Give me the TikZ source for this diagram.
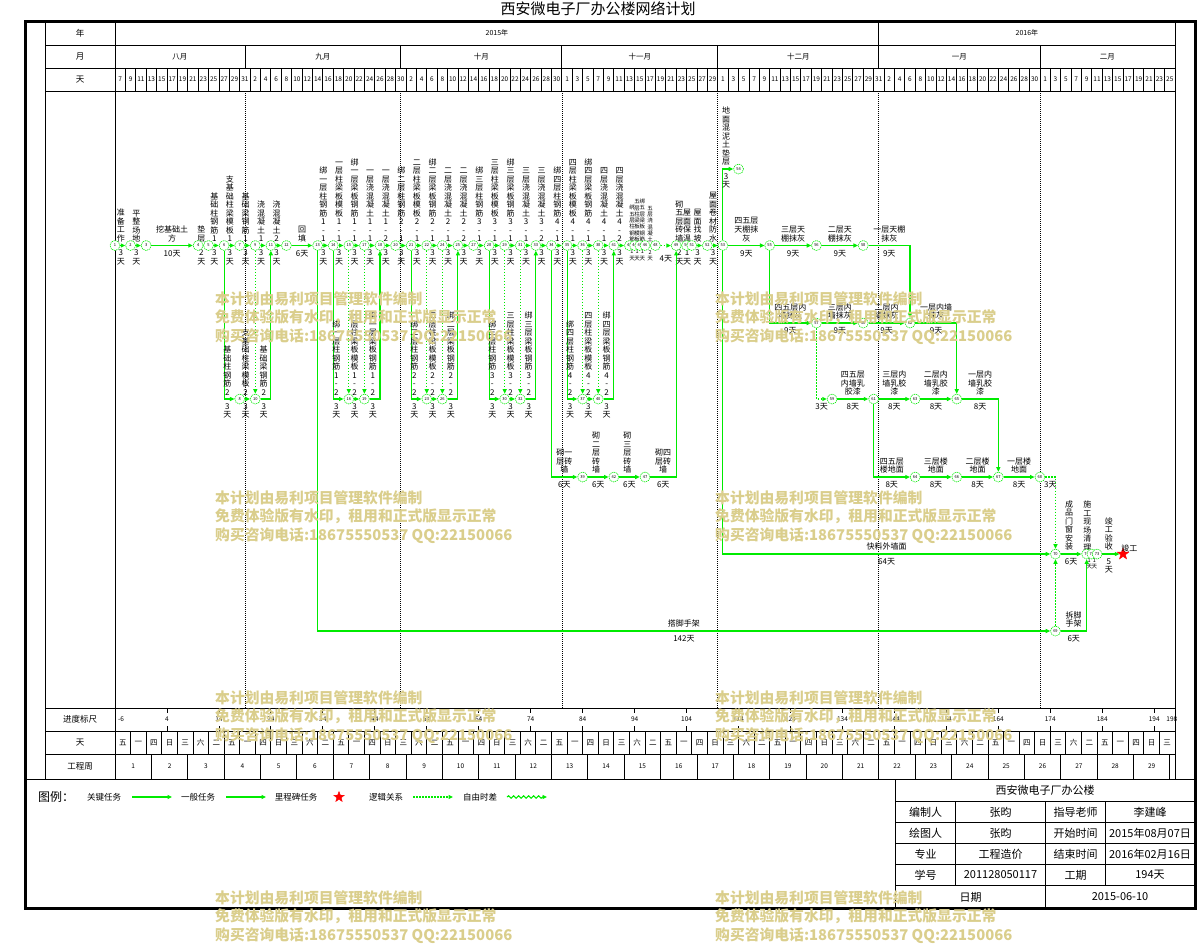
\documentclass[tikz,border=0pt]{standalone}
\usepackage{fontspec}
\setmainfont{Noto Sans CJK SC}
\usepackage{tikz}
\usetikzlibrary{arrows.meta,shapes.geometric,positioning,backgrounds,decorations.pathmorphing}

\definecolor{keygreen}{RGB}{0,235,0}
\definecolor{wmark}{RGB}{218,206,140}

% vertical text, one character per line
\newdimen\vtwidth \vtwidth=8pt
\newcommand\vt[1]{\vbox{\baselineskip=8.5pt\lineskiplimit=-20pt\lineskip=0pt\vtloop#1\vtstop}}
\newcommand\vtsmall[1]{\vbox{\vtwidth=5pt\baselineskip=6.3pt\lineskiplimit=-20pt\lineskip=0pt\vtloop#1\vtstop}}
\def\vtstop{}
\def\vtloop#1{\ifx#1\vtstop\else\hbox to \vtwidth{\hss#1\hss}\expandafter\vtloop\fi}

\begin{document}
\begin{tikzpicture}[
	x=1pt, y=-1pt,
	font=\fontsize{8}{8.7}\selectfont
	]
\tikzset{
	grid/.style = { draw=black, line width=0.8pt },
	monthline/.style = { draw=black, line width=0.7pt, dash pattern=on 1pt off 1pt },
	ev/.style = { circle, draw=keygreen, line width=0.6pt, dash pattern=on 1.2pt off 0.8pt, fill=white, minimum size=10pt, inner sep=0pt, font=\fontsize{4}{4}\selectfont },
	arrow/.style = { draw=keygreen, line width=1.1pt, -{Triangle[length=4.5pt,width=4pt]} },
	keyline/.style = { draw=keygreen, line width=1.1pt },
	logic/.style = { arrow, dash pattern=on 1.5pt off 1.5pt },
	wavy/.style = { arrow, decorate, decoration={snake, amplitude=1.2pt, segment length=5pt, post length=4pt} },
	vlab/.style = { anchor=south, inner sep=0pt, yshift=3pt, xshift=-2pt },
	vdur/.style = { anchor=north, inner sep=0pt, yshift=-4pt, xshift=-2pt },
	tiny/.style = { font=\fontsize{5.5}{6}\selectfont, xshift=2pt },
	hlab/.style = { anchor=south, inner sep=0pt, yshift=3pt, align=center },
	hdur/.style = { anchor=north, inner sep=0pt, yshift=-4pt },
	headText/.style = { inner sep=0pt, font=\fontsize{6.5}{7}\selectfont },
	yearText/.style = { inner sep=0pt, font=\fontsize{7}{7}\selectfont },
	monthText/.style = { inner sep=0pt, font=\fontsize{7.5}{8}\selectfont },
	rowTitle/.style = { inner sep=0pt, font=\fontsize{8.5}{9}\selectfont },
	legendText/.style = { inner sep=0pt, font=\fontsize{8.5}{9}\selectfont },
	blockText/.style = { inner sep=0pt, font=\fontsize{11}{12}\selectfont },
	watermark/.style = { text=wmark, font=\fontsize{14.8}{18.5}\selectfont\bfseries, align=left, anchor=north west, inner sep=0pt },
	finishStar/.style = { star, star points=5, star point ratio=2.4, fill=red, draw=red, minimum size=12pt, inner sep=0pt }
}
\useasboundingbox (0,0) rectangle (1198,943);

	% title
	\node (title) [font=\fontsize{15}{15}\selectfont] at (598,9) {西安微电子厂办公楼网络计划};

	% frame and table
	\draw [line width=3pt] (25,21) rectangle (1195,908);
	\draw [grid] (45,21) -- (45,779) (115,21) -- (115,779) (1175,21) -- (1175,779);
	\draw [grid] (45,45) -- (1175,45) (45,68) -- (1175,68) (45,91) -- (1175,91);
	\draw [grid] (45,708) -- (1175,708) (45,731) -- (1175,731) (45,754) -- (1175,754);
	\draw [grid] (25,779) -- (1195,779);
	\node (rowYear) [rowTitle] at (80,33) {年};
	\node (rowMonth) [rowTitle] at (80,56.5) {月};
	\node (rowDay) [rowTitle] at (80,79.5) {天};
	\node (rowRuler) [rowTitle] at (80,719.5) {进度标尺};
	\node (rowWeekday) [rowTitle] at (80,742.5) {天};
	\node (rowWeek) [rowTitle] at (80,766) {工程周};

\begin{scope}[x=5.196pt, xshift=115pt]
	% calendar header
	\draw [grid] (147,21) -- (147,45);
	\node (year2015) [yearText] at (73.5,33) {2015年};
	\node (year2016) [yearText] at (175.5,33) {2016年};
	\foreach \m in {25,55,86,116,147,178} \draw [grid] (\m,45) -- (\m,68);
	\foreach \mname/\mx [count=\k] in {八月/12.5,九月/40,十月/70.5,十一月/101,十二月/131.5,一月/162.5,二月/191}
		\node (month\k) [monthText] at (\mx,56.5) {\mname};
	\foreach \i in {1,...,101} \draw [grid] (2*\i,68) -- (2*\i,91);
	\foreach \i in {0,...,101} {
		\pgfmathtruncatemacro\o{2*\i}
		\ifnum\o<25 \pgfmathtruncatemacro\dd{\o+7}\else
		\ifnum\o<55 \pgfmathtruncatemacro\dd{\o-24}\else
		\ifnum\o<86 \pgfmathtruncatemacro\dd{\o-54}\else
		\ifnum\o<116 \pgfmathtruncatemacro\dd{\o-85}\else
		\ifnum\o<147 \pgfmathtruncatemacro\dd{\o-115}\else
		\ifnum\o<178 \pgfmathtruncatemacro\dd{\o-146}\else
		\pgfmathtruncatemacro\dd{\o-177}\fi\fi\fi\fi\fi\fi
		\node (day\i) [headText] at (\o+1,79.5) {\dd};
	}
	\foreach \m in {25,55,86,116,147,178} \draw [monthline] (\m,91) -- (\m,708);

	% ruler, weekdays, weeks
	\node (rulerStart) [headText, xshift=6pt] at (0,719.5) {-6};
	\foreach \v [count=\k] in {4,14,...,194} {
		\draw [grid] (\v+6,708) -- (\v+6,713) (\v+6,726) -- (\v+6,731);
		\node (ruler\k) [headText] at (\v+6,719.5) {\v};
	}
	\node (rulerEnd) [headText] at (203.4,719.5) {198};
	\foreach \i in {1,...,67} \draw [grid] (3*\i,731) -- (3*\i,754);
	\foreach \r in {0,...,9} {
		\foreach \w [count=\j from 0] in {五,一,四,日,三,六,二} {
			\pgfmathtruncatemacro\c{7*\r+\j}
			\ifnum\c<68 \node (wd\c) [monthText] at (3*\c+1.5,742.5) {\w}; \fi
		}
	}
	\foreach \i in {1,...,29} {
		\draw [grid] (7*\i,754) -- (7*\i,779);
		\node (week\i) [headText] at (7*\i-3.5,766) {\i};
	}

	% main chain
	\node (e1) [ev] at (0,245.5) {1};
	\node (e2) [ev] at (3,245.5) {2};
	\node (e3) [ev] at (6,245.5) {3};
	\node (e4) [ev] at (16,245.5) {4};
	\node (e5) [ev] at (18,245.5) {5};
	\node (e6) [ev] at (21,245.5) {6};
	\node (e7) [ev] at (24,245.5) {7};
	\node (e9) [ev] at (27,245.5) {9};
	\node (e11) [ev] at (30,245.5) {11};
	\node (e12) [ev] at (33,245.5) {12};
	\node (e13) [ev] at (39,245.5) {13};
	\node (e14) [ev] at (42,245.5) {14};
	\node (e15) [ev] at (45,245.5) {15};
	\node (e17) [ev] at (48,245.5) {17};
	\node (e18) [ev] at (51,245.5) {18};
	\node (e20) [ev] at (54,245.5) {20};
	\node (e21) [ev] at (57,245.5) {21};
	\node (e22) [ev] at (60,245.5) {22};
	\node (e24) [ev] at (63,245.5) {24};
	\node (e25) [ev] at (66,245.5) {25};
	\node (e27) [ev] at (69,245.5) {27};
	\node (e28) [ev] at (72,245.5) {28};
	\node (e29) [ev] at (75,245.5) {29};
	\node (e31) [ev] at (78,245.5) {31};
	\node (e33) [ev] at (81,245.5) {33};
	\node (e34) [ev] at (84,245.5) {34};
	\node (e35) [ev] at (87,245.5) {35};
	\node (e36) [ev] at (90,245.5) {36};
	\node (e38) [ev] at (93,245.5) {38};
	\node (e41) [ev] at (96,245.5) {41};
	\node (e43) [ev] at (99,245.5) {43};
	\node (e44) [ev] at (100,245.5) {44};
	\node (e45) [ev] at (101,245.5) {45};
	\node (e46) [ev] at (102,245.5) {46};
	\node (e48) [ev] at (104,245.5) {48};
	\node (e49) [ev] at (108,245.5) {49};
	\node (e50) [ev] at (110,245.5) {50};
	\node (e51) [ev] at (111,245.5) {51};
	\node (e52) [ev] at (114,245.5) {52};
	\node (e53) [ev] at (117,245.5) {53};
	\node (e55) [ev] at (126,245.5) {55};
	\node (e56) [ev] at (135,245.5) {56};
	\node (e58) [ev] at (144,245.5) {58};

	% lower loops and side chains
	\node (e8) [ev] at (24,399) {8};
	\node (e10) [ev] at (27,399) {10};
	\node (e16) [ev] at (45,399) {16};
	\node (e19) [ev] at (48,399) {19};
	\node (e23) [ev] at (60,399) {23};
	\node (e26) [ev] at (63,399) {26};
	\node (e30) [ev] at (75,399) {30};
	\node (e32) [ev] at (78,399) {32};
	\node (e37) [ev] at (90,399) {37};
	\node (e40) [ev] at (93,399) {40};
	\node (e39) [ev] at (90,477) {39};
	\node (e42) [ev] at (96,477) {42};
	\node (e47) [ev] at (102,477) {47};
	\node (e54) [ev] at (120,169) {54};
	\node (e57) [ev] at (135,323) {57};
	\node (e60) [ev] at (144,323) {60};
	\node (e62) [ev] at (153,323) {62};
	\node (e59) [ev] at (138,399) {59};
	\node (e61) [ev] at (146,399) {61};
	\node (e63) [ev] at (154,399) {63};
	\node (e65) [ev] at (162,399) {65};
	\node (e64) [ev] at (154,477) {64};
	\node (e66) [ev] at (162,477) {66};
	\node (e67) [ev] at (170,477) {67};
	\node (e68) [ev] at (178,477) {68};
	\node (e70) [ev] at (181,554) {70};
	\node (e71) [ev] at (187,554) {71};
	\node (e72) [ev] at (188,554) {72};
	\node (e73) [ev] at (189,554) {73};
	\node (e69) [ev] at (181,631) {69};
	\node (finish) [finishStar] at (194,554) {};
	\node (finishLabel) [above right=-1pt and -4pt of finish, inner sep=0pt] {竣工};

	% foundation
	\draw [arrow] (e1) -- node[vlab] {\vt{准备工作}} node[vdur] {\vt{3天}} (e2);
	\draw [arrow] (e2) -- node[vlab] {\vt{平整场地}} node[vdur] {\vt{3天}} (e3);
	\draw [arrow] (e3) -- node[hlab] {挖基础土\\方} node[hdur] {10天} (e4);
	\draw [arrow] (e5) -- node[vlab] {\vt{基础柱钢筋1}} node[vdur] {\vt{3天}} (e6);
	\draw [arrow] (e6) -- node[vlab] {\vt{支基础柱梁模板1}} node[vdur] {\vt{3天}} (e7);
	\draw [arrow] (e7) -- node[vlab] {\vt{基础梁钢筋1}} node[vdur] {\vt{3天}} (e9);
	\draw [arrow] (e9) -- node[vlab] {\vt{浇混凝土1}} node[vdur] {\vt{3天}} (e11);
	\draw [arrow] (e11) -- node[vlab] {\vt{浇混凝土2}} node[vdur] {\vt{3天}} (e12);
	\draw [arrow] (e12) -- node[hlab] {回\\填} node[hdur] {6天} (e13);
	\draw [arrow] (e6) |- node[pos=0.75, vlab] {\vt{基础柱钢筋2}} node[pos=0.75, vdur] {\vt{3天}} (e8);
	\draw [arrow] (e8) -- node[vlab] {\vt{支基础柱梁模板2}} node[vdur] {\vt{3天}} (e10);
	\draw [arrow] (e10) -| node[pos=0.25, vlab] {\vt{基础梁钢筋2}} node[pos=0.25, vdur] {\vt{3天}} (e11);
	\draw [logic] (e9) -- (e10);

	% first floor
	\draw [arrow] (e13) -- node[vlab] {\vt{绑一层柱钢筋1-1}} node[vdur] {\vt{3天}} (e14);
	\draw [arrow] (e14) -- node[vlab] {\vt{一层柱梁板模板1-1}} node[vdur] {\vt{3天}} (e15);
	\draw [arrow] (e15) -- node[vlab] {\vt{绑一层梁板钢筋1-1}} node[vdur] {\vt{3天}} (e17);
	\draw [arrow] (e17) -- node[vlab] {\vt{一层浇混凝土1-1}} node[vdur] {\vt{3天}} (e18);
	\draw [arrow] (e18) -- node[vlab] {\vt{一层浇混凝土1-2}} node[vdur] {\vt{3天}} (e20);
	\draw [arrow] (e14) |- node[pos=0.75, vlab] {\vt{绑一层柱钢筋1-2}} node[pos=0.75, vdur] {\vt{3天}} (e16);
	\draw [arrow] (e16) -- node[vlab] {\vt{一层柱梁板模板1-2}} node[vdur] {\vt{3天}} (e19);
	\draw [arrow] (e19) -| node[pos=0.25, vlab] {\vt{绑一层梁板钢筋1-2}} node[pos=0.25, vdur] {\vt{3天}} (e18);
	\draw [logic] (e15) -- (e16);
	\draw [logic] (e17) -- (e19);

	% second floor
	\draw [arrow] (e20) -- node[vlab] {\vt{绑二层柱钢筋2-1}} node[vdur] {\vt{3天}} (e21);
	\draw [arrow] (e21) -- node[vlab] {\vt{二层柱梁板模板2-1}} node[vdur] {\vt{3天}} (e22);
	\draw [arrow] (e22) -- node[vlab] {\vt{绑二层梁板钢筋2-1}} node[vdur] {\vt{3天}} (e24);
	\draw [arrow] (e24) -- node[vlab] {\vt{二层浇混凝土2-1}} node[vdur] {\vt{3天}} (e25);
	\draw [arrow] (e25) -- node[vlab] {\vt{二层浇混凝土2-2}} node[vdur] {\vt{3天}} (e27);
	\draw [arrow] (e21) |- node[pos=0.75, vlab] {\vt{绑二层柱钢筋2-2}} node[pos=0.75, vdur] {\vt{3天}} (e23);
	\draw [arrow] (e23) -- node[vlab] {\vt{二层柱梁板模板2-2}} node[vdur] {\vt{3天}} (e26);
	\draw [arrow] (e26) -| node[pos=0.25, vlab] {\vt{绑二层梁板钢筋2-2}} node[pos=0.25, vdur] {\vt{3天}} (e25);
	\draw [logic] (e22) -- (e23);
	\draw [logic] (e24) -- (e26);

	% third floor
	\draw [arrow] (e27) -- node[vlab] {\vt{绑三层柱钢筋3-1}} node[vdur] {\vt{3天}} (e28);
	\draw [arrow] (e28) -- node[vlab] {\vt{三层柱梁板模板3-1}} node[vdur] {\vt{3天}} (e29);
	\draw [arrow] (e29) -- node[vlab] {\vt{绑三层梁板钢筋3-1}} node[vdur] {\vt{3天}} (e31);
	\draw [arrow] (e31) -- node[vlab] {\vt{三层浇混凝土3-1}} node[vdur] {\vt{3天}} (e33);
	\draw [arrow] (e33) -- node[vlab] {\vt{三层浇混凝土3-2}} node[vdur] {\vt{3天}} (e34);
	\draw [arrow] (e28) |- node[pos=0.75, vlab] {\vt{绑三层柱钢筋3-2}} node[pos=0.75, vdur] {\vt{3天}} (e30);
	\draw [arrow] (e30) -- node[vlab] {\vt{三层柱梁板模板3-2}} node[vdur] {\vt{3天}} (e32);
	\draw [arrow] (e32) -| node[pos=0.25, vlab] {\vt{绑三层梁板钢筋3-2}} node[pos=0.25, vdur] {\vt{3天}} (e33);
	\draw [logic] (e29) -- (e30);
	\draw [logic] (e31) -- (e32);

	% fourth floor
	\draw [arrow] (e34) -- node[vlab] {\vt{绑四层柱钢筋4-1}} node[vdur] {\vt{3天}} (e35);
	\draw [arrow] (e35) -- node[vlab] {\vt{四层柱梁板模板4-1}} node[vdur] {\vt{3天}} (e36);
	\draw [arrow] (e36) -- node[vlab] {\vt{绑四层梁板钢筋4-1}} node[vdur] {\vt{3天}} (e38);
	\draw [arrow] (e38) -- node[vlab] {\vt{四层浇混凝土4-1}} node[vdur] {\vt{3天}} (e41);
	\draw [arrow] (e41) -- node[vlab] {\vt{四层浇混凝土4-2}} node[vdur] {\vt{3天}} (e43);
	\draw [arrow] (e35) |- node[pos=0.75, vlab] {\vt{绑四层柱钢筋4-2}} node[pos=0.75, vdur] {\vt{3天}} (e37);
	\draw [arrow] (e37) -- node[vlab] {\vt{四层柱梁板模板4-2}} node[vdur] {\vt{3天}} (e40);
	\draw [arrow] (e40) -| node[pos=0.25, vlab] {\vt{绑四层梁板钢筋4-2}} node[pos=0.25, vdur] {\vt{3天}} (e41);
	\draw [logic] (e36) -- (e37);
	\draw [logic] (e38) -- (e40);

	% brick walls
	\draw [arrow] (e34) |- node[pos=0.75, hlab] {砌一\\层砖\\墙} node[pos=0.75, hdur] {6天} (e39);
	\draw [arrow] (e39) -- node[vlab] {\vt{砌二层砖墙}} node[hdur] {6天} (e42);
	\draw [arrow] (e42) -- node[vlab] {\vt{砌三层砖墙}} node[hdur] {6天} (e47);
	\draw [arrow] (e47) -| node[pos=0.25, hlab] {砌四\\层砖\\墙} node[pos=0.25, hdur] {6天} (e49);

	% roof
	\draw [logic] (e48) -- node[hdur, yshift=-5pt] {4天} (e49);
	\draw [arrow] (e51) -- node[vlab] {\vt{屋面找坡}} node[vdur] {\vt{3天}} (e52);
	\draw [arrow] (e52) -- node[vlab] {\vt{屋面卷材防水}} node[vdur] {\vt{3天}} (e53);
	\draw [arrow] (e53) |- node[pos=0.75, vlab] {\vt{地面混泥土垫层}} node[pos=0.75, vdur] {\vt{3天}} (e54);

	% finishing
	\draw [arrow] (e53) -- node[hlab] {四五层\\天棚抹\\灰} node[hdur] {9天} (e55);
	\draw [arrow] (e55) -- node[hlab] {三层天\\棚抹灰} node[hdur] {9天} (e56);
	\draw [arrow] (e56) -- node[hlab] {二层天\\棚抹灰} node[hdur] {9天} (e58);
	\draw [arrow] (e58) -| node[pos=0.25, hlab] {一层天棚\\抹灰} node[pos=0.25, hdur] {9天} (e62);
	\draw [arrow] (e55) |- node[pos=0.75, hlab] {四五层内\\墙抹灰} node[pos=0.75, hdur] {9天} (e57);
	\draw [arrow] (e57) -- node[hlab] {三层内\\墙抹灰} node[hdur] {9天} (e60);
	\draw [arrow] (e60) -- node[hlab] {二层内\\墙抹灰} node[hdur] {9天} (e62);
	\draw [arrow] (e62) -| node[pos=0.25, hlab] {一层内墙\\抹灰} node[pos=0.25, hdur] {9天} (e65);
	\draw [logic] (e57) |- node[pos=0.75, hdur] {3天} (e59);
	\draw [arrow] (e59) -- node[hlab] {四五层\\内墙乳\\胶漆} node[hdur] {8天} (e61);
	\draw [arrow] (e61) -- node[hlab] {三层内\\墙乳胶\\漆} node[hdur] {8天} (e63);
	\draw [arrow] (e63) -- node[hlab] {二层内\\墙乳胶\\漆} node[hdur] {8天} (e65);
	\draw [arrow] (e65) -| node[pos=0.25, hlab] {一层内\\墙乳胶\\漆} node[pos=0.25, hdur] {8天} (e67);
	\draw [arrow] (e61) |- node[pos=0.75, hlab] {四五层\\楼地面} node[pos=0.75, hdur] {8天} (e64);
	\draw [arrow] (e64) -- node[hlab] {三层楼\\地面} node[hdur] {8天} (e66);
	\draw [arrow] (e66) -- node[hlab] {二层楼\\地面} node[hdur] {8天} (e67);
	\draw [arrow] (e67) -- node[hlab] {一层楼\\地面} node[hdur] {8天} (e68);
	\draw [logic] (e68) -| node[pos=0.25, hdur] {3天} (e70);

	% outside wall, scaffold, completion
	\draw [arrow] (e53) |- node[pos=0.75, hlab] {快料外墙面} node[pos=0.75, hdur] {64天} (e70);
	\draw [arrow] (e13) |- node[pos=0.75, hlab] {搭脚手架} node[pos=0.75, hdur] {142天} (e69);
	\draw [arrow] (e69) -| node[pos=0.25, hlab] {拆脚\\手架} node[pos=0.25, hdur] {6天} (e71);
	\draw [logic] (e69) -- (e70);
	\draw [arrow] (e70) -- node[vlab] {\vt{成品门窗安装}} node[hdur] {6天} (e71);
	\draw [arrow] (e73) -- node[vlab] {\vt{竣工验收}} node[vdur] {\vt{5天}} (finish);

	% short activities behind the events
	\begin{scope}[on background layer]
	\draw [keyline] (e4.center) -- node[vlab] {\vt{垫层}} node[vdur] {\vt{2天}} (e5.center);
	\draw [keyline] (e43.center) -- node[vlab, tiny] {\vtsmall{绑五层柱钢筋}} node[vdur, tiny] {\vtsmall{1天}} (e44.center);
	\draw [keyline] (e44.center) -- node[vlab, tiny] {\vtsmall{五层柱梁板模板}} node[vdur, tiny] {\vtsmall{1天}} (e45.center);
	\draw [keyline] (e45.center) -- node[vlab, tiny] {\vtsmall{绑五层梁板钢筋}} node[vdur, tiny] {\vtsmall{1天}} (e46.center);
	\draw [keyline] (e46.center) -- node[vlab, tiny] {\vtsmall{五层浇混凝土}} node[vdur, tiny] {\vtsmall{2天}} (e48.center);
	\draw [keyline] (e49.center) -- node[vlab] {\vt{砌五层砖墙}} node[vdur] {\vt{2天}} (e50.center);
	\draw [keyline] (e50.center) -- node[vlab] {\vt{屋面保温}} node[vdur] {\vt{1天}} (e51.center);
	\draw [keyline] (e71.center) -- node[vlab] {\vt{施工现场清理}} node[vdur, tiny] {\vtsmall{1天}} (e72.center);
	\draw [keyline] (e72.center) -- node[vdur, tiny] {\vtsmall{1天}} (e73.center);
	\end{scope}
\end{scope}

	% legend
	\node (legendTitle) [inner sep=0pt, font=\fontsize{12}{12}\selectfont, anchor=west] at (38,797) {图例：};
	\node (legendKey) [legendText] at (104,797) {关键任务};
	\coordinate (keyStart) at (132,797);
	\coordinate (keyEnd) at (172,797);
	\draw [arrow] (keyStart) -- (keyEnd);
	\node (legendNormal) [legendText] at (198,797) {一般任务};
	\coordinate (normalStart) at (226,797);
	\coordinate (normalEnd) at (266,797);
	\draw [arrow] (normalStart) -- (normalEnd);
	\node (legendMilestone) [legendText] at (296,797) {里程碑任务};
	\node (legendStar) [finishStar, minimum size=11pt] at (339,797) {};
	\node (legendLogic) [legendText] at (386,797) {逻辑关系};
	\coordinate (logicStart) at (413,797);
	\coordinate (logicEnd) at (453,797);
	\draw [logic] (logicStart) -- (logicEnd);
	\node (legendFree) [legendText] at (480,797) {自由时差};
	\coordinate (freeStart) at (507,797);
	\coordinate (freeEnd) at (547,797);
	\draw [wavy] (freeStart) -- (freeEnd);

	% title block
	\draw [grid] (895.5,779) -- (895.5,908);
	\foreach \r in {801.5,822.5,843.5,864.5,885.5} \draw [grid] (895.5,\r) -- (1195,\r);
	\draw [grid] (955.5,801.5) -- (955.5,885.5) (1105.5,801.5) -- (1105.5,885.5) (1045.5,801.5) -- (1045.5,908);
	\node (projName) [blockText] at (1045,790) {西安微电子厂办公楼};
	\node (makerKey) [blockText] at (925.5,812) {编制人};
	\node (makerVal) [blockText] at (1000.5,812) {张昀};
	\node (tutorKey) [blockText] at (1075.5,812) {指导老师};
	\node (tutorVal) [blockText] at (1150,812) {李建峰};
	\node (drawerKey) [blockText] at (925.5,833) {绘图人};
	\node (drawerVal) [blockText] at (1000.5,833) {张昀};
	\node (startKey) [blockText] at (1075.5,833) {开始时间};
	\node (startVal) [blockText] at (1150,833) {2015年08月07日};
	\node (majorKey) [blockText] at (925.5,854) {专业};
	\node (majorVal) [blockText] at (1000.5,854) {工程造价};
	\node (endKey) [blockText] at (1075.5,854) {结束时间};
	\node (endVal) [blockText] at (1150,854) {2016年02月16日};
	\node (idKey) [blockText] at (925.5,875) {学号};
	\node (idVal) [blockText] at (1000.5,875) {201128050117};
	\node (spanKey) [blockText] at (1075.5,875) {工期};
	\node (spanVal) [blockText] at (1150,875) {194天};
	\node (dateKey) [blockText] at (970.5,897) {日期};
	\node (dateVal) [blockText] at (1120,897) {2015-06-10};

	% watermarks
	\foreach \wx/\wy [count=\k] in {215/291,715/291,215/490,715/490,215/690,715/690,215/890,715/890}
		\node (mark\k) [watermark] at (\wx,\wy) {本计划由易利项目管理软件编制\\免费体验版有水印，租用和正式版显示正常\\购买咨询电话:18675550537 QQ:22150066};
\end{tikzpicture}
\end{document}
